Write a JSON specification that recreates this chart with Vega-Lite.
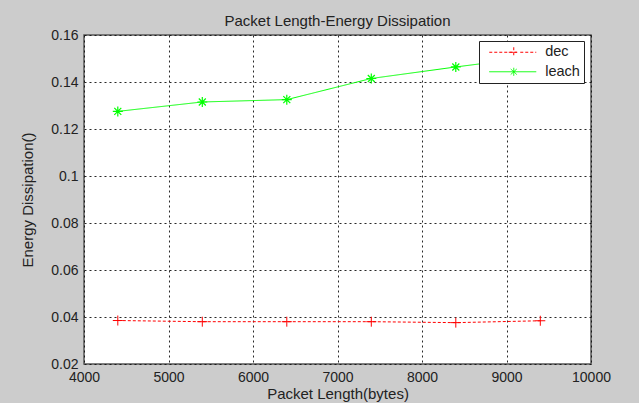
{
  "$schema": "https://vega.github.io/schema/vega-lite/v6.json",
  "width": 507,
  "height": 329,
  "autosize": {"type": "none"},
  "padding": {"left": 84, "top": 35, "right": 48, "bottom": 39},
  "background": "#cccccc",
  "title": {"text": "Packet Length-Energy Dissipation", "fontSize": 15, "fontWeight": "normal", "font": "Liberation Sans", "color": "#222222", "offset": -1},
  "config": {
    "view": {"fill": "white", "stroke": "#555555", "strokeWidth": 1.5},
    "axis": {
      "labelFont": "Liberation Sans", "labelFontSize": 14, "labelColor": "#222222",
      "titleFont": "Liberation Sans", "titleFontSize": 15, "titleFontWeight": "normal", "titleColor": "#222222",
      "ticks": false, "domain": false, "labelPadding": 6, "labelFlush": false, "labelBound": false, "labelOverlap": false,
      "grid": true, "gridColor": "#111111", "gridOpacity": 0.9, "gridDash": [2, 3], "gridWidth": 1
    }
  },
  "data": {"values": [
    {"series": "dec", "x": 4400, "y": 0.0385},
    {"series": "dec", "x": 5400, "y": 0.038},
    {"series": "dec", "x": 6400, "y": 0.038},
    {"series": "dec", "x": 7400, "y": 0.038},
    {"series": "dec", "x": 8400, "y": 0.0376},
    {"series": "dec", "x": 9400, "y": 0.0384},
    {"series": "leach", "x": 4400, "y": 0.1275},
    {"series": "leach", "x": 5400, "y": 0.1315},
    {"series": "leach", "x": 6400, "y": 0.1325},
    {"series": "leach", "x": 7400, "y": 0.1415},
    {"series": "leach", "x": 8400, "y": 0.1464},
    {"series": "leach", "x": 9400, "y": 0.151}
  ]},
  "encoding": {
    "x": {"field": "x", "type": "quantitative", "scale": {"domain": [4000, 10000], "nice": false},
      "axis": {"values": [4000, 5000, 6000, 7000, 8000, 9000, 10000], "format": "d", "title": "Packet Length(bytes)", "titlePadding": 2}},
    "y": {"field": "y", "type": "quantitative", "scale": {"domain": [0.02, 0.16], "nice": false, "zero": false},
      "axis": {"values": [0.02, 0.04, 0.06, 0.08, 0.1, 0.12, 0.14, 0.16], "format": ".2~f", "title": "Energy Dissipation()", "titlePadding": 15}},
    "color": {"field": "series", "type": "nominal", "scale": {"domain": ["dec", "leach"], "range": ["#ff0000", "#00ff00"]},
      "legend": {
        "title": null, "orient": "none", "legendX": 395, "legendY": 6, "fillColor": "white", "strokeColor": "#222222",
        "padding": 4, "symbolOffset": 4, "symbolSize": 100, "labelOffset": 43.7, "rowPadding": 3.5,
        "labelFont": "Liberation Sans", "labelFontSize": 14.5, "labelColor": "#222222", "symbolStrokeWidth": 1,
        "symbolFillColor": "transparent"
      }}
  },
  "layer": [
    {"mark": {"type": "line", "strokeWidth": 1},
     "encoding": {"strokeDash": {"field": "series", "type": "nominal", "scale": {"domain": ["dec", "leach"], "range": [[3, 2], [1, 0]]}, "legend": null}}},
    {"transform": [{"filter": "datum.series == 'dec'"}],
     "mark": {"type": "point", "filled": false, "size": 100, "strokeWidth": 1, "opacity": 1, "shape": "M-1,0H1M0,-1V1"}},
    {"transform": [{"filter": "datum.series == 'leach'"}],
     "mark": {"type": "point", "filled": false, "size": 100, "strokeWidth": 1.2, "opacity": 1, "shape": "M-1,0H1M0,-1V1M-0.7,-0.7L0.7,0.7M-0.7,0.7L0.7,-0.7"}},
    {"transform": [{"filter": "datum.x < 0"}],
     "mark": {"type": "point", "filled": false, "size": 100, "strokeWidth": 1, "opacity": 1},
     "encoding": {"shape": {"field": "series", "type": "nominal", "scale": {"domain": ["dec", "leach"], "range": ["M-1,0H-0.4M0,0H0.6M1,0H1.6M2,0H2.6M3.2,0H4.6M5.2,0H5.8M6.2,0H6.8M7.2,0H7.8M8.2,0H8.4M2.9,0H4.9M3.9,-1V1", "M-1,0H8.4M3.9,-0.8V0.8M3.3,-0.55L4.5,0.55M3.3,0.55L4.5,-0.55"]}}}}
  ]
}
